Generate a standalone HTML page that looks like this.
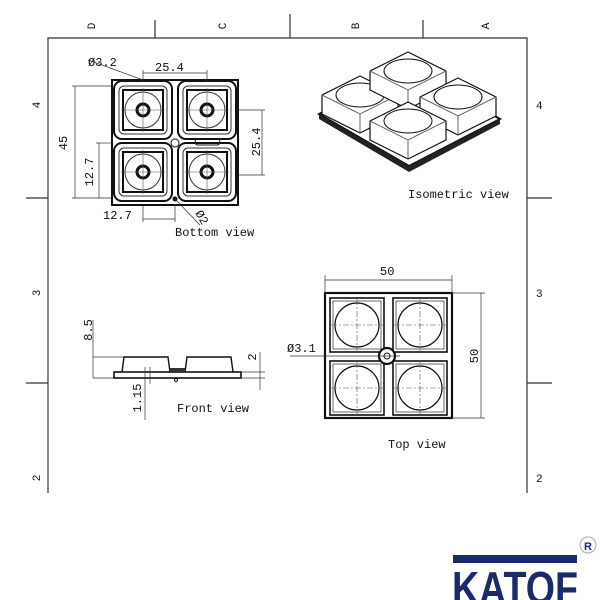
<!DOCTYPE html>
<html><head><style>body{margin:0;background:#fff}svg{display:block}text{font-family:"Liberation Mono",monospace;fill:#111}</style></head>
<body>
<svg width="600" height="600" viewBox="0 0 600 600" xmlns="http://www.w3.org/2000/svg">
<defs>
<g id="bcell">
<rect x="-29" y="-29" width="58" height="58" rx="8" fill="none" stroke="#111" stroke-width="2"/>
<rect x="-24" y="-24" width="48" height="48" rx="5" fill="none" stroke="#333" stroke-width="1"/>
<rect x="-20" y="-20" width="40" height="40" fill="none" stroke="#111" stroke-width="2"/>
<circle r="18" fill="none" stroke="#333" stroke-width="1"/>
<circle r="6" fill="none" stroke="#111" stroke-width="3"/>
<line x1="-22" y1="0" x2="22" y2="0" stroke="#555" stroke-width="0.6"/>
<line x1="0" y1="-22" x2="0" y2="22" stroke="#555" stroke-width="0.6"/>
</g>
<g id="tcell">
<rect x="-27" y="-27" width="54" height="54" fill="none" stroke="#111" stroke-width="1.6"/>
<rect x="-24" y="-24" width="48" height="48" fill="none" stroke="#444" stroke-width="0.8"/>
<circle r="22" fill="none" stroke="#111" stroke-width="1.2"/>
<line x1="-26" y1="0" x2="26" y2="0" stroke="#555" stroke-width="0.6" stroke-dasharray="6,2,2,2"/>
<line x1="0" y1="-26" x2="0" y2="26" stroke="#555" stroke-width="0.6" stroke-dasharray="6,2,2,2"/>
</g>
<g id="iso">
<polygon points="0,-24 38,-5 38,14 0,33 -38,14 -38,-5" fill="#fff" stroke="#111" stroke-width="1.2"/>
<polyline points="-38,-5 0,14 38,-5" fill="none" stroke="#666" stroke-width="1"/>
<line x1="0" y1="14" x2="0" y2="33" stroke="#666" stroke-width="1"/>
<ellipse cx="0" cy="-5" rx="24" ry="12" fill="#fff" stroke="#111" stroke-width="1"/>
</g>
</defs>
<!-- frame -->
<g stroke="#333" stroke-width="1.2" fill="none">
<polyline points="48,493 48,38 527,38 527,493"/>
<line x1="155" y1="20" x2="155" y2="38"/><line x1="290" y1="14" x2="290" y2="38"/><line x1="423" y1="20" x2="423" y2="38"/>
<line x1="26" y1="198" x2="48" y2="198"/><line x1="26" y1="383" x2="48" y2="383"/>
<line x1="527" y1="198" x2="552" y2="198"/><line x1="527" y1="383" x2="552" y2="383"/>
</g>
<g font-size="11">
<text transform="translate(95,26) rotate(-90)" text-anchor="middle">D</text>
<text transform="translate(226,26) rotate(-90)" text-anchor="middle">C</text>
<text transform="translate(359,26) rotate(-90)" text-anchor="middle">B</text>
<text transform="translate(489,26) rotate(-90)" text-anchor="middle">A</text>
<text transform="translate(40,105) rotate(-90)" text-anchor="middle">4</text>
<text transform="translate(40,293) rotate(-90)" text-anchor="middle">3</text>
<text transform="translate(40,478) rotate(-90)" text-anchor="middle">2</text>
<text x="536" y="109">4</text><text x="536" y="297">3</text><text x="536" y="482">2</text>
</g>
<!-- bottom view -->
<rect x="112" y="80" width="126" height="125" fill="none" stroke="#111" stroke-width="2"/>
<use href="#bcell" x="143" y="110"/><use href="#bcell" x="207" y="110"/>
<use href="#bcell" x="143" y="172"/><use href="#bcell" x="207" y="172"/>
<circle cx="175" cy="143" r="4" fill="none" stroke="#111"/>
<rect x="195" y="139" width="25" height="6" rx="3" fill="none" stroke="#111"/>
<circle cx="175" cy="199" r="2.5" fill="#111"/>
<g stroke="#333" stroke-width="0.7" fill="none">
<line x1="143" y1="73" x2="207" y2="73"/><line x1="143" y1="70" x2="143" y2="82"/><line x1="207" y1="70" x2="207" y2="82"/>
<line x1="88" y1="60" x2="143" y2="80"/>
<line x1="72" y1="86" x2="112" y2="86"/><line x1="72" y1="198" x2="112" y2="198"/><line x1="75" y1="86" x2="75" y2="198"/>
<line x1="96" y1="143" x2="112" y2="143"/><line x1="99" y1="143" x2="99" y2="198"/>
<line x1="238" y1="110" x2="265" y2="110"/><line x1="238" y1="175" x2="265" y2="175"/><line x1="262" y1="110" x2="262" y2="175"/>
<line x1="143" y1="205" x2="143" y2="222"/><line x1="175" y1="205" x2="175" y2="222"/><line x1="143" y1="219" x2="175" y2="219"/>
<line x1="175" y1="199" x2="200" y2="225"/>
</g>
<g font-size="12">
<text x="88" y="66">Ø3.2</text><text x="155" y="71">25.4</text>
<text transform="translate(67,143) rotate(-90)" text-anchor="middle">45</text>
<text transform="translate(93,172) rotate(-90)" text-anchor="middle">12.7</text>
<text transform="translate(260,142) rotate(-90)" text-anchor="middle">25.4</text>
<text x="103" y="219">12.7</text>
<text transform="translate(195,213) rotate(60)">Ø2</text>
<text x="175" y="236">Bottom view</text>
</g>
<!-- isometric -->
<polygon points="319,114 408,68 500,119 409,166" fill="#fff" stroke="#111" stroke-width="2"/>
<polygon points="319,114 319,119 409,172 500,124 500,119 409,166" fill="#222"/>
<use href="#iso" x="360" y="100"/>
<use href="#iso" x="408" y="76"/>
<use href="#iso" x="458" y="102"/>
<use href="#iso" x="408" y="126"/>
<text x="408" y="198" font-size="12">Isometric view</text>
<!-- front view -->
<rect x="114" y="372" width="127" height="6" fill="#fff" stroke="#111" stroke-width="1.6"/>
<path d="M122,372 L124,357 L168,357 L170,372 M185,372 L187,357 L231,357 L233,372" fill="none" stroke="#111" stroke-width="1.4"/>
<rect x="170" y="368" width="15" height="4" fill="#333"/>
<circle cx="176" cy="380" r="1.5" fill="none" stroke="#111"/>
<g stroke="#333" stroke-width="0.7" fill="none">
<line x1="93" y1="357" x2="124" y2="357"/><line x1="93" y1="378" x2="114" y2="378"/><line x1="93" y1="320" x2="93" y2="378"/>
<line x1="241" y1="372" x2="265" y2="372"/><line x1="241" y1="378" x2="265" y2="378"/><line x1="260" y1="352" x2="260" y2="390"/>
<line x1="145" y1="367" x2="145" y2="420"/><line x1="150" y1="367" x2="150" y2="384"/>
</g>
<g font-size="12">
<text transform="translate(92,330) rotate(-90)" text-anchor="middle">8.5</text>
<text transform="translate(256,357) rotate(-90)" text-anchor="middle">2</text>
<text transform="translate(141,398) rotate(-90)" text-anchor="middle">1.15</text>
<text x="177" y="412">Front view</text>
</g>
<!-- top view -->
<rect x="325" y="293" width="127" height="125" fill="none" stroke="#111" stroke-width="2.2"/>
<use href="#tcell" x="357" y="325"/><use href="#tcell" x="420" y="325"/>
<use href="#tcell" x="357" y="388"/><use href="#tcell" x="420" y="388"/>
<circle cx="387" cy="356" r="8" fill="#fff" stroke="#111" stroke-width="2.2"/>
<circle cx="387" cy="356" r="3" fill="none" stroke="#111"/>
<g stroke="#333" stroke-width="0.7" fill="none">
<line x1="325" y1="280" x2="452" y2="280"/><line x1="325" y1="275" x2="325" y2="293"/><line x1="452" y1="275" x2="452" y2="293"/>
<line x1="452" y1="293" x2="485" y2="293"/><line x1="452" y1="418" x2="485" y2="418"/><line x1="481" y1="293" x2="481" y2="418"/>
<line x1="290" y1="356" x2="400" y2="356"/>
</g>
<g font-size="12">
<text x="380" y="275">50</text>
<text transform="translate(478,356) rotate(-90)" text-anchor="middle">50</text>
<text x="287" y="352">Ø3.1</text>
<text x="388" y="448">Top view</text>
</g>
<!-- logo -->
<rect x="453" y="555" width="124" height="8" fill="#1b2a6b"/>
<text x="452" y="604" font-size="46" style="font-family:'Liberation Sans',sans-serif;font-weight:bold;fill:#1b2a6b" textLength="126" lengthAdjust="spacingAndGlyphs">KATOF</text>
<circle cx="588" cy="545" r="8" fill="#fff" stroke="#aaa"/>
<text x="584" y="550" font-size="11" style="font-family:'Liberation Sans',sans-serif;font-weight:bold;fill:#1b2a6b">R</text>
</svg>
</body></html>
